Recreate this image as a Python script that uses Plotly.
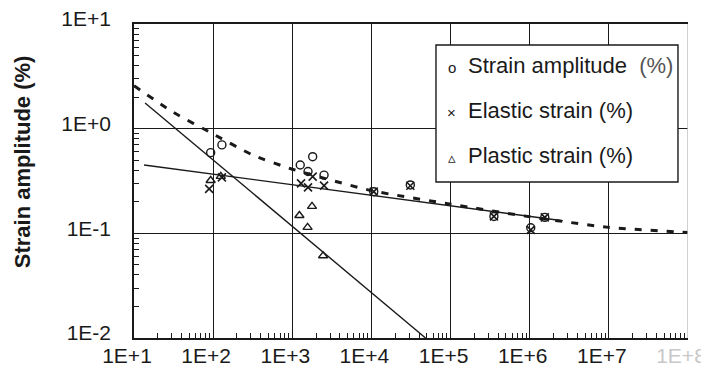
import plotly.graph_objects as go

# ---- data ----
amp_cycles = [93, 129, 1260, 1580, 1810, 2520, 10700, 31000, 353000, 1030000, 1550000]
amp_values = [0.59, 0.70, 0.45, 0.39, 0.54, 0.36, 0.25, 0.29, 0.145, 0.113, 0.142]

el_cycles = [89, 129, 1290, 1580, 1810, 2520, 10700, 31000, 353000, 1030000, 1550000]
el_values = [0.266, 0.343, 0.30, 0.275, 0.348, 0.286, 0.25, 0.285, 0.145, 0.108, 0.142]

pl_cycles = [93, 125, 1230, 1560, 1775, 2450]
pl_values = [0.32, 0.35, 0.148, 0.114, 0.181, 0.061]

# fitted lines (end points)
pl_fit_x = [13.8, 48300]
pl_fit_y = [1.76, 0.01]
el_fit_x = [13.4, 2.6e6]
el_fit_y = [0.45, 0.132]

# total strain curve (dashed), read at several points
tot_x = [10, 31.6, 100, 316, 1000, 1e4, 1e5, 1e6, 1e7, 1e8]
tot_y = [2.57, 1.43, 0.89, 0.56, 0.41, 0.256, 0.19, 0.144, 0.114, 0.102]

x_tickvals = [1e1, 1e2, 1e3, 1e4, 1e5, 1e6, 1e7, 1e8]
x_ticktext = ["1E+1", "1E+2", "1E+3", "1E+4", "1E+5", "1E+6", "1E+7",
              "<span style='color:#c8c8c8'>1E+8</span>"]
y_tickvals = [1e-2, 1e-1, 1e0, 1e1]
y_ticktext = ["1E-2", "1E-1", "1E+0", "1E+1"]

legend_symbols = ["o", "×", "▵"]
legend_labels = ["Strain amplitude&nbsp;&nbsp;<span style='color:#555'>(%)</span>",
                 "Elastic strain (%)", "Plastic strain (%)"]

FONT = "Arial, Liberation Sans, sans-serif"
INK = "#1a1a1a"

fig = go.Figure()

fig.add_trace(go.Scatter(x=tot_x, y=tot_y, mode="lines",
                         line=dict(color=INK, width=3, dash="7px,9px", shape="spline", smoothing=0.6),
                         showlegend=False, hoverinfo="skip"))
fig.add_trace(go.Scatter(x=pl_fit_x, y=pl_fit_y, mode="lines",
                         line=dict(color=INK, width=1.4), showlegend=False, hoverinfo="skip"))
fig.add_trace(go.Scatter(x=el_fit_x, y=el_fit_y, mode="lines",
                         line=dict(color=INK, width=1.4), showlegend=False, hoverinfo="skip"))

fig.add_trace(go.Scatter(x=amp_cycles, y=amp_values, mode="markers",
                         name="Strain amplitude (%)", showlegend=False,
                         marker=dict(symbol="circle-open", size=8, color=INK, line=dict(width=1.4))))
fig.add_trace(go.Scatter(x=el_cycles, y=el_values, mode="markers",
                         name="Elastic strain (%)", showlegend=False,
                         marker=dict(symbol="x-thin-open", size=8, color=INK, line=dict(width=1.6, color=INK))))
fig.add_trace(go.Scatter(x=pl_cycles, y=pl_values, mode="markers",
                         name="Plastic strain (%)", showlegend=False,
                         marker=dict(symbol="triangle-up-open", size=8, color=INK, line=dict(width=1.4))))

# faded right border of the scanned frame
fig.add_shape(type="line", xref="x", yref="paper", x0=1e8, x1=1e8, y0=0, y1=1,
              line=dict(color="#bdbdbd", width=1.4), layer="above")

# legend box drawn by hand to match the scanned layout
fig.add_shape(type="rect", xref="paper", yref="paper", x0=0.5451, x1=0.9819, y0=0.4968, y1=0.9331,
              line=dict(color=INK, width=1.4), fillcolor="white", layer="above")
row_y = [0.8694, 0.7261, 0.5828]
for sym, lab, yy in zip(legend_symbols, legend_labels, row_y):
    fig.add_annotation(text=sym, xref="paper", yref="paper", x=0.5740, y=yy - 0.008,
                       xanchor="center", yanchor="middle", showarrow=False,
                       font=dict(family=FONT, size=15, color=INK))
    fig.add_annotation(text=lab, xref="paper", yref="paper", x=0.5993, y=yy,
                       xanchor="left", yanchor="middle", showarrow=False,
                       font=dict(family=FONT, size=22, color=INK))

fig.update_xaxes(type="log", range=[1, 8], tickvals=x_tickvals, ticktext=x_ticktext,
                 showgrid=True, gridcolor=INK, gridwidth=1.4,
                 showline=True, linecolor=INK, linewidth=1.6, mirror=True,
                 ticks="inside", ticklen=5, tickcolor=INK,
                 minor=dict(dtick="D1", ticks="inside", ticklen=5, tickcolor=INK, showgrid=False),
                 tickfont=dict(family=FONT, size=21, color=INK),
                 ticklabelshift=-7, ticklabelstandoff=-2, ticklabeloverflow="allow",
                 zeroline=False, automargin=False)
fig.update_yaxes(type="log", range=[-2, 1], tickvals=y_tickvals, ticktext=y_ticktext,
                 showgrid=True, gridcolor=INK, gridwidth=1.4,
                 showline=True, linecolor=INK, linewidth=1.6, mirror=False,
                 ticks="inside", ticklen=5, tickcolor=INK,
                 minor=dict(dtick="D1", ticks="inside", ticklen=5, tickcolor=INK, showgrid=False),
                 tickfont=dict(family=FONT, size=21, color=INK),
                 ticklabelshift=-5, ticklabelstandoff=17, ticklabeloverflow="allow",
                 zeroline=False, automargin=False)

fig.add_annotation(text="<b>Strain amplitude (%)</b>", xref="paper", yref="paper",
                   x=-0.202, y=0.56, xanchor="center", yanchor="middle",
                   textangle=-90, showarrow=False,
                   font=dict(family=FONT, size=22, color=INK))

# the page is shown with an 8px body margin, so the figure is sized to fit the window
fig.update_layout(
    width=701, height=367,
    margin=dict(l=126, r=21, t=16, b=37),
    paper_bgcolor="white", plot_bgcolor="white",
    showlegend=False,
)

fig.write_html("out.html")
